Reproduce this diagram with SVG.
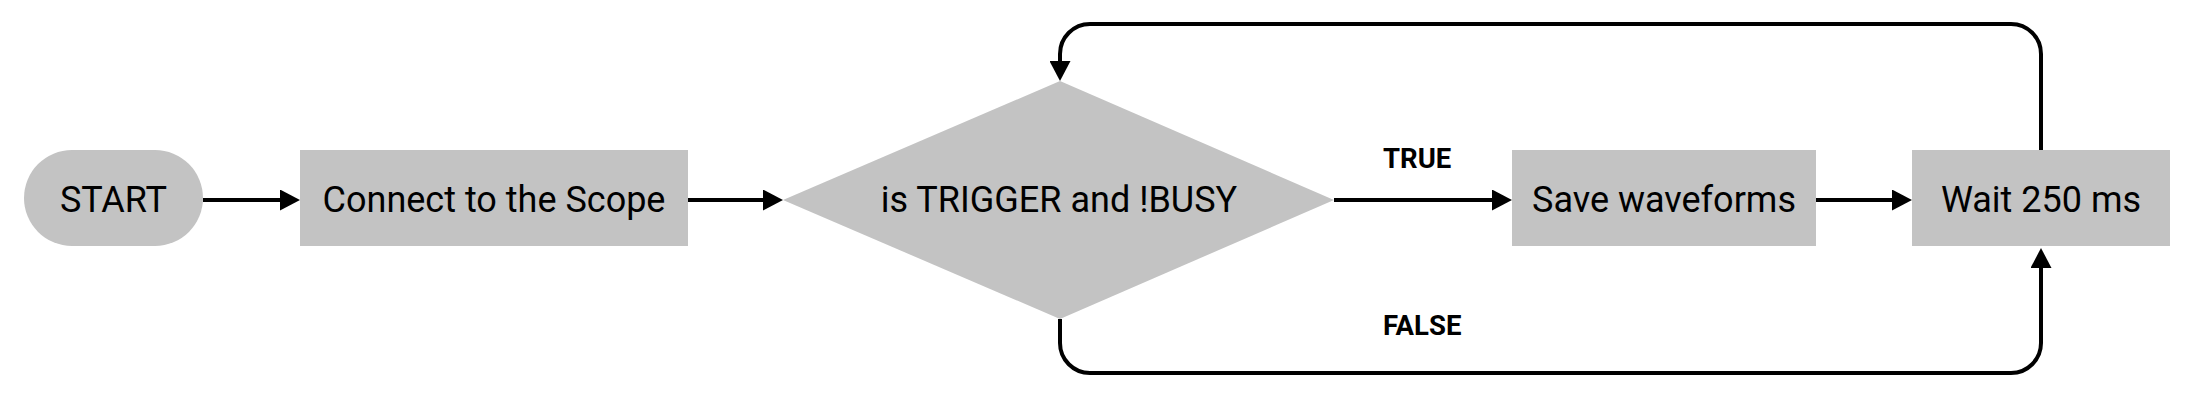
<svg xmlns="http://www.w3.org/2000/svg" width="2194" height="400" viewBox="0 0 2194 400">
<style>
.shape{fill:#c3c3c3;stroke:none}
.lbl{font-family:Roboto,"Liberation Sans",sans-serif;font-size:36px;fill:#000;text-anchor:middle}
.edge{font-family:Roboto,"Liberation Sans",sans-serif;font-size:27.5px;font-weight:bold;fill:#000}
.conn{fill:none;stroke:#000;stroke-width:4}
</style>
<defs>
<marker id="arrow" markerUnits="userSpaceOnUse" markerWidth="20" markerHeight="21" refX="2" refY="10.5" orient="auto" viewBox="0 0 20 21">
<path d="M0,0 L20,10.5 L0,21 z" fill="#000"/>
</marker>
</defs>
<rect width="2194" height="400" fill="#fff"/>
<g id="start">
<rect class="shape" x="24" y="150" width="179" height="96" rx="48" ry="48"/>
<text class="lbl" x="113.5" y="212">START</text>
</g>
<g id="connect">
<rect class="shape" x="300" y="150" width="388" height="96"/>
<text class="lbl" x="494" y="212">Connect to the Scope</text>
</g>
<g id="decision">
<polygon class="shape" points="1060,81 1334,200 1060,319 783,200"/>
<text class="lbl" x="1059" y="212">is TRIGGER and !BUSY</text>
</g>
<g id="save">
<rect class="shape" x="1512" y="150" width="304" height="96"/>
<text class="lbl" x="1664" y="212">Save waveforms</text>
</g>
<g id="wait">
<rect class="shape" x="1912" y="150" width="258" height="96"/>
<text class="lbl" x="2041" y="212">Wait 250 ms</text>
</g>
<g id="connectors">
<path class="conn" d="M203,200 H282" marker-end="url(#arrow)"/>
<path class="conn" d="M688,200 H765" marker-end="url(#arrow)"/>
<path class="conn" d="M1334,200 H1494" marker-end="url(#arrow)"/>
<path class="conn" d="M1816,200 H1894" marker-end="url(#arrow)"/>
<path class="conn" d="M2041,150 V54 A30,30 0 0 0 2011,24 H1090 A30,30 0 0 0 1060,54 V63" marker-end="url(#arrow)"/>
<path class="conn" d="M1060,319 V343 A30,30 0 0 0 1090,373 H2011 A30,30 0 0 0 2041,343 V266" marker-end="url(#arrow)"/>
<text class="edge" x="1383" y="168">TRUE</text>
<text class="edge" x="1383" y="335">FALSE</text>
</g>
</svg>
